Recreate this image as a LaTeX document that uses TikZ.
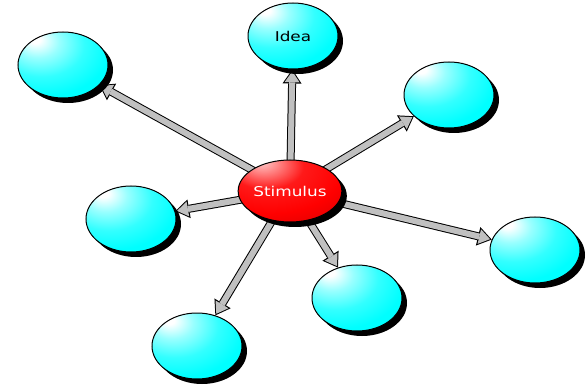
\documentclass[tikz,border=0pt]{standalone}
\usepackage{fontspec}
\usepackage{tikz}
\usetikzlibrary{shapes.geometric,shadows,arrows.meta,backgrounds}
\newfontfamily\bubblefont[FakeStretch=1.25]{DejaVu Sans}
\definecolor{shaftgray}{RGB}{192,192,192}
\pgfdeclareradialshading{cyanball}{\pgfpoint{-16bp}{20bp}}{color(0bp)=(white); color(3bp)=(white); color(12bp)=(cyan!40!white); color(24bp)=(cyan!80!white); color(36bp)=(cyan); color(100bp)=(cyan)}
\pgfdeclareradialshading{redball}{\pgfpoint{-14bp}{24bp}}{color(0bp)=(red!20!white); color(4bp)=(red!35!white); color(18bp)=(red!90!white); color(34bp)=(red); color(55bp)=(red!80!black); color(100bp)=(red!60!black)}
\tikzset{
	bubble/.style={ellipse, draw=black, line width=1pt, shade, shading=cyanball, minimum width=90pt, minimum height=66pt, inner sep=0pt, font=\bubblefont\fontsize{13.5}{15}\selectfont, drop shadow={shadow xshift=5pt, shadow yshift=-5pt, fill=black, opacity=1}},
	stimbubble/.style={bubble, shading=redball, minimum width=86pt, minimum height=62pt, text=white},
	shaftout/.style={draw=black, line width=8pt, -{Triangle[length=14pt, width=19pt, line width=0pt]}},
	shaftin/.style={draw=shaftgray, line width=6pt, shorten >=1.8pt, -{Triangle[length=11pt, width=15pt, line width=0pt]}}
}
\begin{document}
\begin{tikzpicture}[x=1pt, y=-1pt]
		\useasboundingbox (0,0) rectangle (587,385);
		\node[stimbubble] (stim) at (290,191) {Stimulus};
		\node[bubble] (idea) at (293,36) {Idea};
		\foreach \n/\x/\y in {tl/63/65, tr/449/95, lm/131/219, rt/535/250, bm/357/298, bl/197/346} {
			\node[bubble] (\n) at (\x,\y) {};
		}
		% arrows run out from behind the stimulus
		\begin{scope}[on background layer]
			\foreach \t in {idea, tl, tr, lm, rt, bm, bl} {
				\draw[shaftout] (stim.center) -- (\t);
				\draw[shaftin] (stim.center) -- (\t);
			}
		\end{scope}
	\end{tikzpicture}
\end{document}
